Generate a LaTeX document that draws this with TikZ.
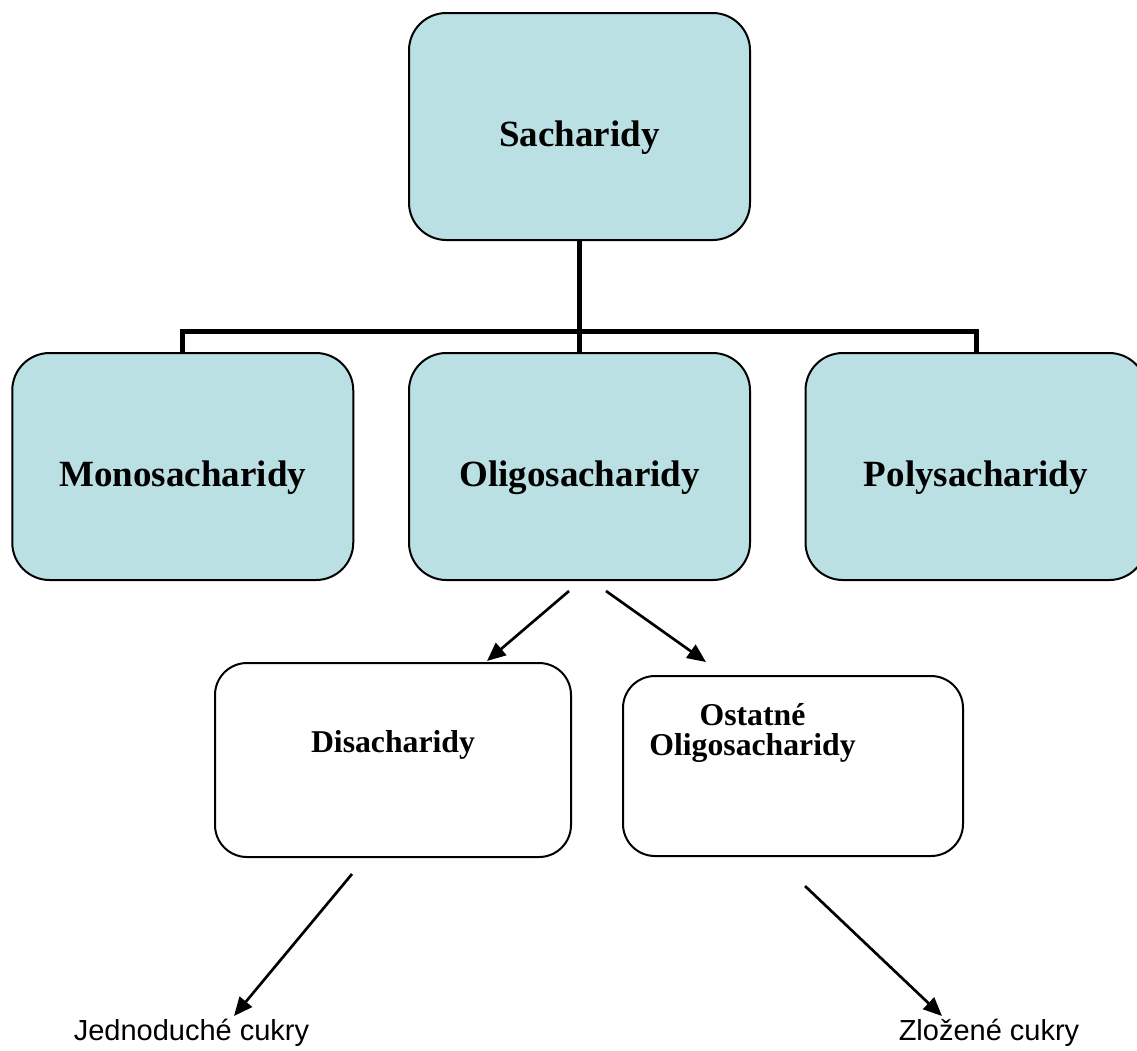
\documentclass[tikz,border=0pt]{standalone}
\usepackage{fontspec}
\setmainfont{Liberation Serif}
\setsansfont{Liberation Sans}
\usetikzlibrary{arrows.meta,calc}
\definecolor{boxblue}{RGB}{187,224,227}

\begin{document}
\begin{tikzpicture}[x=0.75pt,y=-0.75pt,
  bluebox/.style={draw,line width=1.5pt,fill=boxblue,rounded corners=28pt,
    minimum width=255.75pt,minimum height=170.25pt,
    font=\bfseries\fontsize{27.75}{33}\selectfont,text height=36pt,text depth=5.5pt},
  whitebox/.style={draw,line width=1.5pt,fill=white,rounded corners=24pt},
  subtext/.style={font=\bfseries\fontsize{23.8}{22}\selectfont,align=center},
  endtext/.style={font=\sffamily\fontsize{21.75}{26}\selectfont,anchor=base},
  bar/.style={line width=3.75pt},
  pointer/.style={line width=2pt,-{Triangle[length=14pt,width=12pt]}}]
  \useasboundingbox (0,0) rectangle (1137,1050);

  % Top node and the three main groups
  \node[bluebox] (sach) at (579.5,126.5) {Sacharidy};
  \node[bluebox] (mono) at (182.75,466.5) {Monosacharidy};
  \node[bluebox] (olig) at (579.5,466.5) {Oligosacharidy};
  \node[bluebox] (poly) at (976,466.5) {Polysacharidy};

  % Tree connector
  \coordinate (junction) at (579.5,331);
  \draw[bar] (sach.south) -- (olig.north);
  \draw[bar] (mono.north) |- (junction) -| (poly.north);

  % Second level (white boxes)
  \node[whitebox,minimum width=267pt,minimum height=145.5pt] (disa) at (393,760) {};
  \node[whitebox,minimum width=255pt,minimum height=135pt] (osta) at (793,766) {};
  \node[subtext,anchor=base] (disatext) at (393,752) {Disacharidy};
  \node[subtext] (ostatext) at (752.5,733) {Ostatné\\Oligosacharidy};

  % Bottom labels
  \node[endtext] (jedno) at (191.5,1040) {Jednoduché cukry};
  \node[endtext] (zloz) at (989,1040) {Zložené cukry};

  % Arrow end points
  \coordinate (oligL) at (569,591);   % below Oligosacharidy, left
  \coordinate (oligR) at (606,591);   % below Oligosacharidy, right
  \coordinate (disaIn) at (487,661);  % top of Disacharidy
  \coordinate (ostaIn) at (706,662);  % above Ostatne
  \coordinate (disaOut) at (352,874); % below Disacharidy
  \coordinate (ostaOut) at (805,886); % below Ostatne
  \coordinate (jednoIn) at (234,1016);
  \coordinate (zlozIn) at (942,1016);

  % Arrows
  \draw[pointer] (oligL) -- (disaIn);
  \draw[pointer] (oligR) -- (ostaIn);
  \draw[pointer] (disaOut) -- (jednoIn);
  \draw[pointer] (ostaOut) -- (zlozIn);
\end{tikzpicture}
\end{document}
